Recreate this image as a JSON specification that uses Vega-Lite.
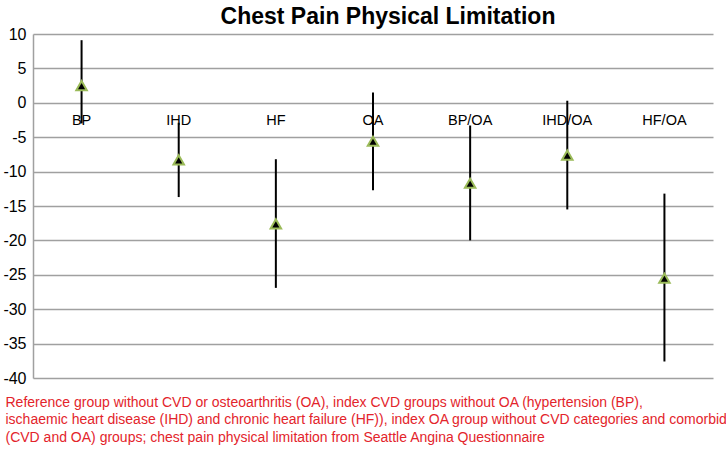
{
  "$schema": "https://vega.github.io/schema/vega-lite/v6.json",
  "width": 680,
  "height": 344,
  "autosize": "none",
  "padding": {"left": 33, "top": 34, "right": 13, "bottom": 73},
  "background": "white",
  "title": {
    "text": "Chest Pain Physical Limitation",
    "font": "Liberation Sans",
    "fontSize": 23,
    "fontWeight": "bold",
    "color": "black",
    "anchor": "middle",
    "offset": -3,
    "dx": 15
  },
  "data": {
    "values": [
      {"group": "BP", "mean": 2.5, "lower": -3.0, "upper": 9.1},
      {"group": "IHD", "mean": -8.3, "lower": -13.7, "upper": -2.9},
      {"group": "HF", "mean": -17.6, "lower": -26.9, "upper": -8.2},
      {"group": "OA", "mean": -5.6, "lower": -12.7, "upper": 1.5},
      {"group": "BP/OA", "mean": -11.7, "lower": -20.0, "upper": -3.3},
      {"group": "IHD/OA", "mean": -7.6, "lower": -15.5, "upper": 0.3},
      {"group": "HF/OA", "mean": -25.5, "lower": -37.6, "upper": -13.2}
    ]
  },
  "encoding": {
    "x": {
      "field": "group",
      "type": "nominal",
      "sort": ["BP", "IHD", "HF", "OA", "BP/OA", "IHD/OA", "HF/OA"],
      "scale": {"paddingInner": 0, "paddingOuter": 0},
      "axis": {
        "labels": false,
        "ticks": false,
        "domain": false,
        "grid": false,
        "title": [
          "Reference group without CVD or osteoarthritis (OA), index CVD groups without OA (hypertension (BP),",
          "ischaemic heart disease (IHD) and chronic heart failure (HF)), index OA group without CVD categories and comorbid",
          "(CVD and OA) groups; chest pain physical limitation from Seattle Angina Questionnaire"
        ],
        "titleFont": "Liberation Sans",
        "titleFontSize": 14,
        "titleFontWeight": "normal",
        "titleColor": "#e3242b",
        "titleAnchor": "start",
        "titleAlign": "left",
        "titleBaseline": "top",
        "titleLineHeight": 17.5,
        "titleX": -28,
        "titleY": 17
      }
    }
  },
  "layer": [
    {
      "mark": {"type": "rule", "color": "black", "strokeWidth": 2},
      "encoding": {
        "y": {
          "field": "lower",
          "type": "quantitative",
          "scale": {"domain": [-40, 10], "nice": false, "zero": false},
          "axis": {
            "title": null,
            "values": [-40, -35, -30, -25, -20, -15, -10, -5, 0, 5, 10],
            "tickCount": 11,
            "labelOverlap": false,
            "labelExpr": "datum.value < 0 ? '-' + abs(datum.value) : '' + datum.value",
            "grid": true,
            "gridColor": "#a0a0a0",
            "gridWidth": 1.5,
            "domain": true,
            "domainColor": "#a0a0a0",
            "domainWidth": 1.5,
            "ticks": false,
            "labelPadding": 7,
            "labelFont": "Liberation Sans",
            "labelFontSize": 16,
            "labelColor": "black"
          }
        },
        "y2": {"field": "upper"}
      }
    },
    {
      "mark": {
        "type": "point",
        "shape": "triangle-up",
        "filled": true,
        "fill": "black",
        "stroke": "#9bbb59",
        "strokeWidth": 2,
        "size": 110,
        "opacity": 1
      },
      "encoding": {
        "y": {
          "field": "mean",
          "type": "quantitative",
          "axis": {
            "title": null,
            "values": [-40, -35, -30, -25, -20, -15, -10, -5, 0, 5, 10],
            "tickCount": 11,
            "labelOverlap": false,
            "labelExpr": "datum.value < 0 ? '-' + abs(datum.value) : '' + datum.value",
            "grid": true,
            "gridColor": "#a0a0a0",
            "gridWidth": 1.5,
            "domain": true,
            "domainColor": "#a0a0a0",
            "domainWidth": 1.5,
            "ticks": false,
            "labelPadding": 7,
            "labelFont": "Liberation Sans",
            "labelFontSize": 16,
            "labelColor": "black"
          }
        }
      }
    },
    {
      "mark": {
        "type": "text",
        "font": "Liberation Sans",
        "fontSize": 14.5,
        "color": "black",
        "baseline": "middle",
        "align": "center",
        "dy": 18
      },
      "encoding": {
        "y": {
          "datum": 0,
          "type": "quantitative",
          "axis": {
            "title": null,
            "values": [-40, -35, -30, -25, -20, -15, -10, -5, 0, 5, 10],
            "tickCount": 11,
            "labelOverlap": false,
            "labelExpr": "datum.value < 0 ? '-' + abs(datum.value) : '' + datum.value",
            "grid": true,
            "gridColor": "#a0a0a0",
            "gridWidth": 1.5,
            "domain": true,
            "domainColor": "#a0a0a0",
            "domainWidth": 1.5,
            "ticks": false,
            "labelPadding": 7,
            "labelFont": "Liberation Sans",
            "labelFontSize": 16,
            "labelColor": "black"
          }
        },
        "text": {"field": "group"}
      }
    }
  ],
  "config": {
    "view": {"stroke": null}
  }
}
